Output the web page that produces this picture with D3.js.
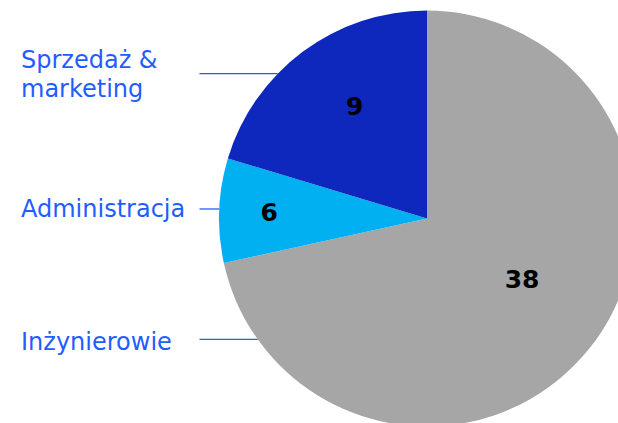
<!DOCTYPE html>
<html>
<head>
<meta charset="utf-8">
<script src="https://cdn.jsdelivr.net/npm/d3@7"></script>
<style>
  html, body { margin: 0; padding: 0; background: #fff; }
  svg { display: block; }
</style>
</head>
<body>
<svg id="chart"></svg>
<script>
// slices, clockwise from 12 o'clock
const categories = ["Inżynierowie", "Administracja", "Sprzedaż & marketing"];
const sizes = [38, 4.3, 10.8];
const valueLabels = ["38", "6", "9"];
const colors = ["#a6a6a6", "#00b0f0", "#0e28bd"];

const width = 618;
const height = 423;
const cx = 427;
const cy = 218.5;
const radius = 208;
const textBlue = "#1f5dff";

const svg = d3.select("#chart").attr("width", width).attr("height", height);

const pie = d3.pie().sort(null).value((d) => d)(sizes);
const arc = d3.arc().innerRadius(0).outerRadius(radius);

const g = svg.append("g").attr("transform", `translate(${cx},${cy})`);

g.selectAll("path")
  .data(pie)
  .enter()
  .append("path")
  .attr("d", arc)
  .attr("fill", (d, i) => colors[i]);

// value labels, pushed along the slice mid angle
const labelRadius = [112.5, 158, 134];
const labelShift = [-6.5, 0, 4]; // degrees
g.selectAll("text.value")
  .data(pie)
  .enter()
  .append("text")
  .attr("class", "value")
  .attr("transform", (d, i) => {
    const a = (d.startAngle + d.endAngle) / 2 + (labelShift[i] * Math.PI) / 180;
    const [x, y] = d3.pointRadial(a, labelRadius[i]);
    return `translate(${x},${y})`;
  })
  .attr("text-anchor", "middle")
  .attr("dy", "0.36em")
  .style("font-family", "'DejaVu Sans', sans-serif")
  .style("font-weight", "bold")
  .style("font-size", "25px")
  .style("fill", "#000")
  .text((d, i) => valueLabels[i]);

// side legend with leader lines
const legend = [
  { i: 2, lines: ["Sprzedaż &", "marketing"], y: 68, lineY: 73.7 },
  { i: 1, lines: ["Administracja"], y: 217, lineY: 209 },
  { i: 0, lines: ["Inżynierowie"], y: 350, lineY: 339.3 },
];

legend.forEach((l) => {
  const t = svg
    .append("text")
    .attr("x", 21)
    .attr("y", l.y)
    .style("font-family", "'DejaVu Sans', sans-serif")
    .style("font-size", "24px")
    .style("fill", textBlue);
  l.lines.forEach((s, k) => {
    t.append("tspan").attr("x", 21).attr("y", l.y + k * 29).text(s);
  });

  const edgeX = cx - Math.sqrt(radius * radius - (l.lineY - cy) ** 2);
  svg
    .append("line")
    .attr("x1", 199.5)
    .attr("x2", edgeX)
    .attr("y1", l.lineY)
    .attr("y2", l.lineY)
    .attr("stroke", textBlue)
    .attr("stroke-width", 1.3);
});
</script>
</body>
</html>
